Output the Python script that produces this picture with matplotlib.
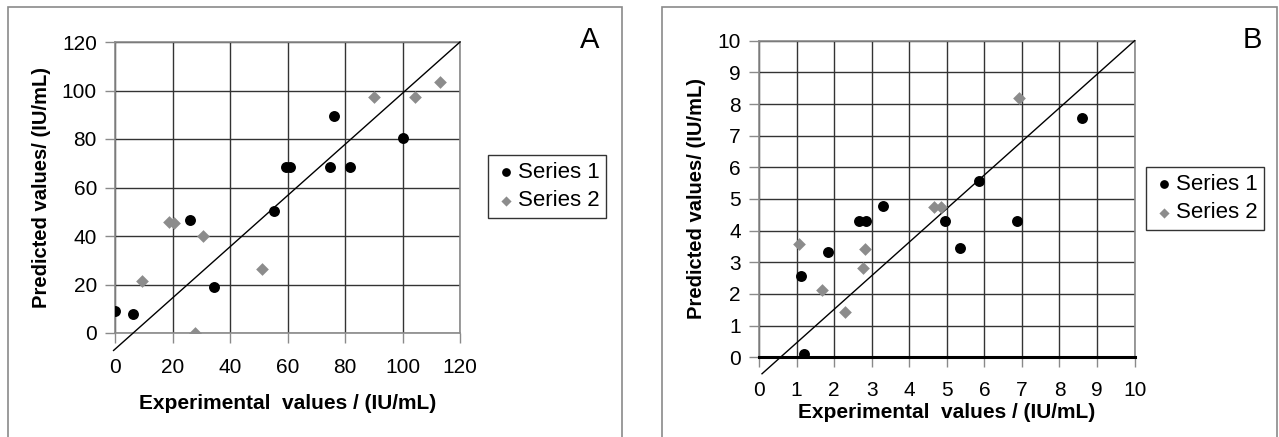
import matplotlib
matplotlib.use('Agg')
import matplotlib.pyplot as plt
from matplotlib.patches import Rectangle

# Panel A data (IU/mL)
a_s1_x = [0, 6.1, 26.0, 34.3, 55.3, 59.5, 60.9, 74.8, 76.1, 81.6, 100.1]
a_s1_y = [9.2, 7.8, 46.6, 19.1, 50.2, 68.6, 68.6, 68.6, 89.6, 68.6, 80.5]
a_s2_x = [9.4, 18.8, 20.5, 27.9, 30.7, 51.0, 90.2, 104.3, 113.0]
a_s2_y = [21.4, 45.9, 45.5, 0.2, 40.0, 26.4, 97.5, 97.5, 103.4]
a_line_x = [-0.5, 120]
a_line_y = [-7.2, 120]

# Panel B data (IU/mL)
b_s1_x = [1.12, 1.21, 1.83, 2.67, 2.84, 3.30, 4.96, 5.36, 5.85, 6.87, 8.61]
b_s1_y = [2.57, 0.10, 3.34, 4.32, 4.32, 4.78, 4.32, 3.45, 5.58, 4.32, 7.57]
b_s2_x = [1.07, 1.68, 2.30, 2.78, 2.81, 4.66, 4.84, 6.91]
b_s2_y = [3.58, 2.13, 1.44, 2.81, 3.42, 4.76, 4.76, 8.20]
b_line_x = [0.08, 10]
b_line_y = [-0.52, 10]

series_names = ['Series 1', 'Series 2']

FONT = 'Liberation Sans'
GRID = '#333333'
FRAME = '#8a8a8a'
GREY_PT = '#8c8c8c'

plt.rcParams['font.family'] = FONT

fig = plt.figure(figsize=(12.79, 4.37), dpi=100)

# cajas exteriores de cada panel
for x0, w in [(8, 614), (662, 615)]:
    fig.patches.append(Rectangle((x0 / 1279, -0.1), w / 1279, 1 - 7 / 437 + 0.1,
                                 transform=fig.transFigure, fill=False,
                                 edgecolor=FRAME, linewidth=1.2))


def panel(rect, s1x, s1y, s2x, s2y, lx, ly, lim, step, letter, letter_pos, leg_pos,
          xpad, xlabelpad):
    ax = fig.add_axes(rect)
    ax.scatter(s1x, s1y, s=62, marker='o', color='black', zorder=4,
               label=series_names[0], linewidths=0)
    ax.scatter(s2x, s2y, s=42, marker='D', color=GREY_PT, zorder=4,
               label=series_names[1], linewidths=0)
    ax.plot(lx, ly, color='black', linewidth=1, clip_on=False, zorder=3)
    ax.set_xlim(0, lim)
    ax.set_ylim(0, lim)
    ticks = list(range(0, lim + 1, step))
    ax.set_xticks(ticks)
    ax.set_yticks(ticks)
    ax.grid(True, color=GRID, linewidth=1)
    ax.set_axisbelow(True)
    for s in ax.spines.values():
        s.set_color(FRAME)
        s.set_linewidth(1.2)
    ax.tick_params(length=7, width=1, color=FRAME, labelsize=15, pad=6)
    ax.tick_params(axis='x', pad=xpad)
    ax.set_xlabel('Experimental  values / (IU/mL)', fontsize=15, fontweight='bold',
                  labelpad=xlabelpad)
    ax.set_ylabel('Predicted values/ (IU/mL)', fontsize=14.5, fontweight='bold', labelpad=8)
    fig.text(letter_pos[0] / 1279, 1 - letter_pos[1] / 437, letter, fontsize=21,
             ha='center', va='center')
    leg = ax.legend(loc='upper left', bbox_to_anchor=(leg_pos[0] / 1279, 1 - leg_pos[1] / 437),
                    bbox_transform=fig.transFigure, fontsize=16, frameon=True, fancybox=False,
                    handletextpad=0.05, handlelength=1.0, borderpad=0.3, labelspacing=0.35,
                    borderaxespad=0, scatterpoints=1, markerscale=0.8)
    leg.get_frame().set_edgecolor('black')
    leg.get_frame().set_linewidth(1)
    return ax


panel([115 / 1279, 104 / 437, 345 / 1279, 291 / 437],
      a_s1_x, a_s1_y, a_s2_x, a_s2_y, a_line_x, a_line_y, 120, 20,
      'A', (590, 40), (488, 155), 11, 12)
axb = panel([759 / 1279, 79.7 / 437, 375.6 / 1279, 316.6 / 437],
            b_s1_x, b_s1_y, b_s2_x, b_s2_y, b_line_x, b_line_y, 10, 1,
            'B', (1252, 40), (1146, 167), 10, 2)
# en B el eje x es una línea negra gruesa
axb.spines['bottom'].set_color('black')
axb.spines['bottom'].set_linewidth(2.2)

fig.savefig('out.png', dpi=100)
